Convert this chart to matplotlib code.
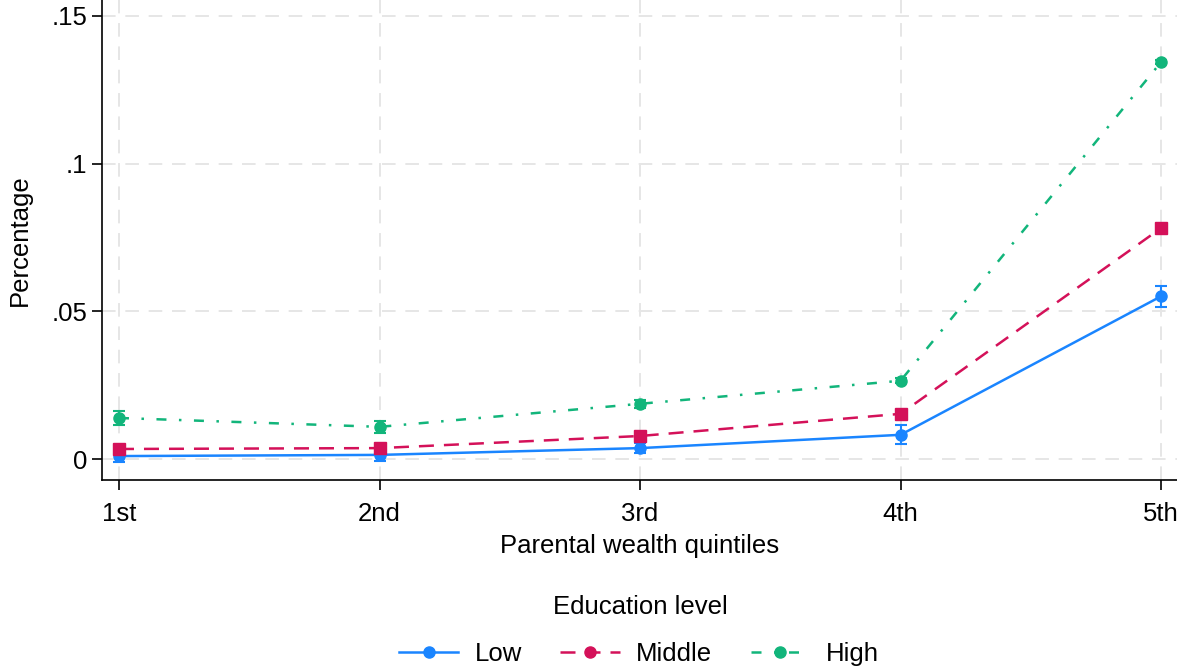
import matplotlib
matplotlib.use("Agg")

import matplotlib.pyplot as plt
from matplotlib.lines import Line2D

plt.rcParams["font.family"] = ["Liberation Sans", "DejaVu Sans"]

quintiles = ["1st", "2nd", "3rd", "4th", "5th"]
x = [1, 2, 3, 4, 5]

low = [0.0010, 0.0014, 0.0037, 0.0082, 0.0551]
low_err = [0.0020, 0.0020, 0.0016, 0.0032, 0.0035]
middle = [0.0034, 0.0037, 0.0078, 0.0153, 0.0782]
middle_err = [0.0013, 0.0010, 0.0008, 0.0008, 0.0008]
high = [0.0139, 0.0109, 0.0187, 0.0265, 0.1344]
high_err = [0.0025, 0.0020, 0.0013, 0.0008, 0.0008]

series = [
    ("Low", low, low_err, "#1a85ff", "-", "o"),
    ("Middle", middle, middle_err, "#d41159", (0, (6, 4)), "s"),
    ("High", high, high_err, "#12b57b", (0, (4, 5, 1, 5)), "o"),
]

fig = plt.figure(figsize=(11.77, 6.69), dpi=100)
ax = fig.add_axes([0.0867, 0.2825, 0.9133, 0.7175])

for name, vals, err, color, ls, mk in series:
    ax.errorbar(x, vals, yerr=err, color=color, linestyle=ls, linewidth=1.8,
                marker=mk, markersize=8, capsize=4, elinewidth=1.5,
                capthick=1.5, zorder=3)

ax.set_xlim(0.935, 5.061)
ax.set_ylim(-0.0071, 0.1554)
ax.set_xticks(x)
ax.set_xticklabels(quintiles)
ax.set_yticks([0, 0.05, 0.1, 0.15])
ax.set_yticklabels(["0", ".05", ".1", ".15"])
ax.tick_params(labelsize=18.5, length=7, width=1.2)
ax.tick_params(axis="x", pad=9)
ax.grid(True, color="#e6e6e6", linestyle=(0, (7, 5)), linewidth=1.4)
ax.set_axisbelow(True)
for side in ["top", "right"]:
    ax.spines[side].set_visible(False)
for side in ["left", "bottom"]:
    ax.spines[side].set_linewidth(1.2)

ax.set_xlabel("Parental wealth quintiles", fontsize=18.5)
ax.set_ylabel("Percentage", fontsize=18.5)
ax.xaxis.set_label_coords(0.5, -0.113)
ax.yaxis.set_label_coords(-0.065, 0.5)

handles = [
    Line2D([], [], color=c, linestyle=ls, linewidth=1.8, marker="o", markersize=8)
    for _, _, _, c, ls, _ in series
]
fig.text(0.5437, 1 - 607 / 669, "Education level", fontsize=18.5,
         ha="center", va="center")
fig.legend(handles, [s[0] for s in series],
           loc="center", bbox_to_anchor=(0.543, 1 - 654 / 669), ncol=3, frameon=False,
           fontsize=18.5, handlelength=2.3, columnspacing=1.5,
           handletextpad=0.64, borderpad=0.2)

fig.savefig("out.png", dpi=100)
